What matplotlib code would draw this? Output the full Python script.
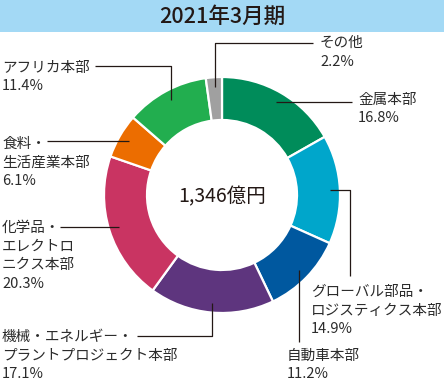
import numpy as np
import matplotlib
matplotlib.use("Agg")
import matplotlib.pyplot as plt
from matplotlib.patches import Rectangle

plt.rcParams['font.family'] = ['Noto Sans CJK JP', 'DejaVu Sans']

# ---- data ----
title = "2021年3月期"
total_label = "1,346億円"
segments = ["金属本部", "グローバル部品・\nロジスティクス本部", "自動車本部",
            "機械・エネルギー・\nプラントプロジェクト本部", "化学品・\nエレクトロ\nニクス本部",
            "食料・\n生活産業本部", "アフリカ本部", "その他"]
shares = [16.8, 14.9, 11.2, 17.1, 20.3, 6.1, 11.4, 2.2]
colors = ["#008C5A", "#00A6CB", "#00589F", "#5E357E", "#C93462", "#EC6D00", "#22AE4F", "#A0A0A0"]

# ---- layout (pixel coords, y downward) ----
W, H = 444, 380
CX, CY, R_OUT, R_IN = 222, 195, 118, 75
ANCHOR_R = 108
# leader path after the anchor: list of ("h", x) / ("v", y) legs
legs = [
    [("h", 352)],
    [("h", 350), ("v", 276)],
    [("v", 342)],
    [("v", 336), ("h", 137)],
    [("h", 60)],
    [("h", 47)],
    [("v", 66), ("h", 95)],
    [("v", 43), ("h", 313)],
]
text_pos = [(358, 100), (311, 292), (287, 356), (2, 337), (2, 228), (2, 144), (2, 68), (320, 43)]
LINE = 18.5
TXT = "#2b2b2b"

def Y(y):
    return H - y

fig = plt.figure(figsize=(W / 100, H / 100), dpi=100)
ax = fig.add_axes([0, 0, 1, 1])

wedges, _ = ax.pie(shares, colors=colors, startangle=90, counterclock=False,
                   center=(CX, Y(CY)), radius=R_OUT,
                   wedgeprops=dict(width=R_OUT - R_IN, edgecolor="white", linewidth=1.6))

ax.set_xlim(0, W)
ax.set_ylim(0, H)
ax.set_aspect("equal")
ax.axis("off")

# title bar
ax.add_patch(Rectangle((0, Y(32)), W, 32, facecolor="#A3D9F5", edgecolor="none", zorder=0))
ax.text(W / 2, Y(17), title, ha="center", va="center", fontsize=15.5, color="#231815",
        fontweight="medium")

# center total
ax.text(CX, Y(197), total_label, ha="center", va="center", fontsize=14, color="#231815")

# leaders and labels
cum = np.cumsum([0] + shares)
for i, (name, val) in enumerate(zip(segments, shares)):
    mid = (cum[i] + cum[i + 1]) / 2 / 100 * 360
    ax_ = CX + ANCHOR_R * np.sin(np.radians(mid))
    ay_ = CY - ANCHOR_R * np.cos(np.radians(mid))
    xs, ys = [ax_], [ay_]
    for kind, v in legs[i]:
        if kind == "h":
            xs.append(v); ys.append(ys[-1])
        else:
            xs.append(xs[-1]); ys.append(v)
    ax.plot(xs, [Y(y) for y in ys], color="#231815", lw=0.9, solid_capstyle="butt", zorder=5)
    lines = name.split("\n") + [f"{val:.1f}%"]
    tx, ty = text_pos[i]
    for k, ln in enumerate(lines):
        ax.text(tx, Y(ty + k * LINE), ln, ha="left", va="center", fontsize=10.5, color=TXT)

fig.savefig("out.png", dpi=100)
